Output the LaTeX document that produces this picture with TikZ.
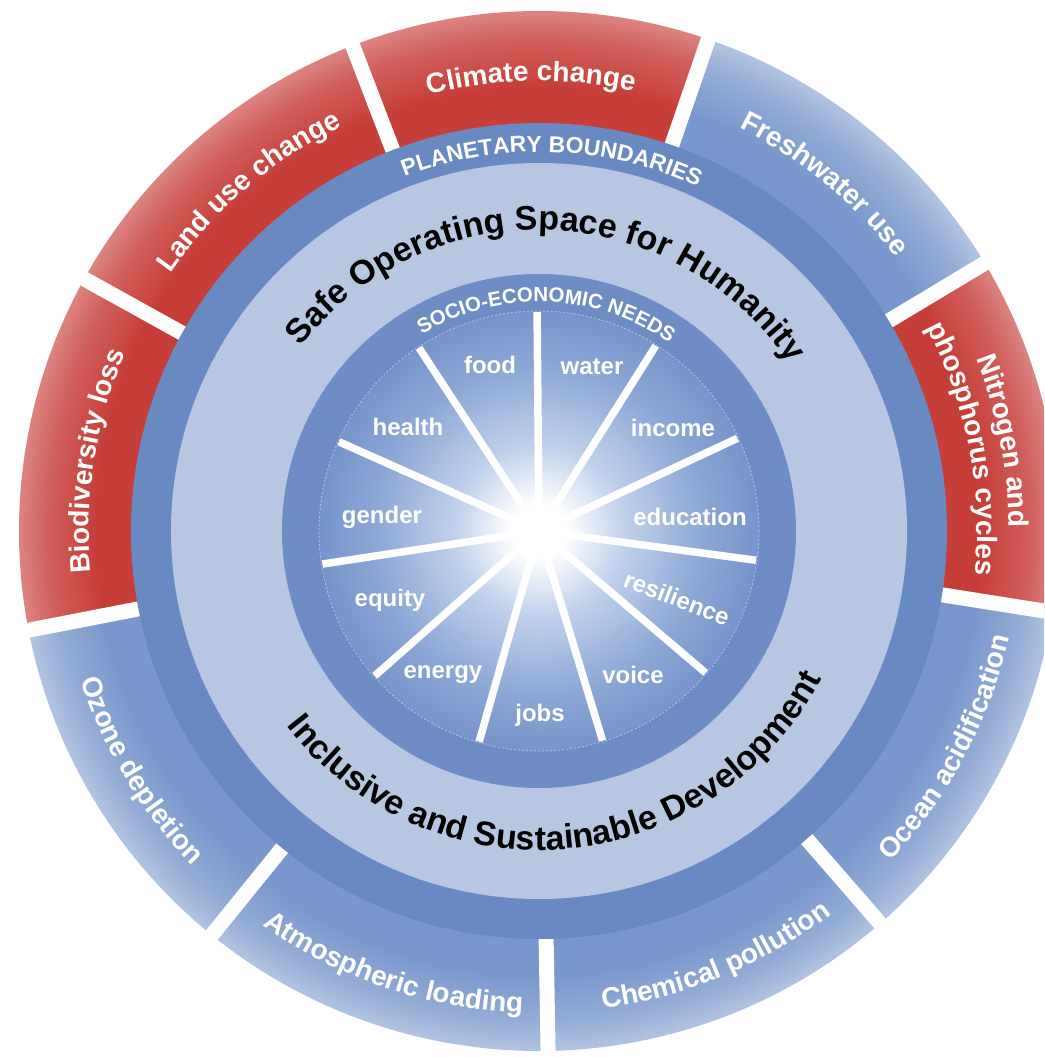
\documentclass[tikz,border=0pt]{standalone}
\usepackage{fontspec}
\setmainfont{Liberation Sans}
\usetikzlibrary{decorations.text}
\definecolor{segred}{RGB}{199,62,57}
\definecolor{segblue}{RGB}{120,151,204}
\definecolor{pbblue}{RGB}{104,137,193}
\definecolor{lightzone}{RGB}{183,199,226}
\definecolor{innerring}{RGB}{110,141,196}
\definecolor{wheelout}{RGB}{118,148,202}
\definecolor{wheelmid}{RGB}{138,166,213}
\definecolor{glowmid}{RGB}{190,207,235}
\pgfdeclareradialshading{wheelglow}{\pgfpoint{0bp}{0bp}}{color(0bp)=(white); color(3bp)=(white); color(10bp)=(glowmid); color(19bp)=(wheelmid); color(25bp)=(wheelout); color(50bp)=(wheelout)}
\pgfdeclareradialshading{redseg}{\pgfpoint{0bp}{0bp}}{color(0bp)=(segred); color(21.3bp)=(segred); color(23.5bp)=(segred!84!white); color(25bp)=(segred!64!white); color(50bp)=(segred!64!white)}
\pgfdeclareradialshading{blueseg}{\pgfpoint{0bp}{0bp}}{color(0bp)=(segblue); color(21.3bp)=(segblue); color(23.5bp)=(segblue!80!white); color(25bp)=(segblue!58!white); color(50bp)=(segblue!58!white)}
\newcommand\segfont{\fontsize{28}{30}\selectfont\bfseries}
\newcommand\wheelfont{\fontsize{24}{26}\selectfont\bfseries}
\newcommand\ringseg[3]{\begin{scope}\clip (#1:400) arc[start angle=#1,end angle=#2,radius=400] -- (#2:520) arc[start angle=#2,end angle=#1,radius=520] -- cycle; \shade[shading=#3] (c) circle (520);\end{scope}}
\newcommand\toplabel[3]{\path[decorate, decoration={text along path, text color=white, text align=center, text={|\segfont|#3}}] ({#1+25}:#2) arc[start angle={#1+25}, end angle={#1-25}, radius=#2];}
\newcommand\botlabel[3]{\path[decorate, decoration={text along path, text color=white, text align=center, text={|\segfont|#3}}] ({#1-25}:#2) arc[start angle={#1-25}, end angle={#1+25}, radius=#2];}
\tikzset{wlabel/.style={text=white, font=\wheelfont, inner sep=0pt}}
\begin{document}
\begin{tikzpicture}[x=1pt,y=1pt]
\useasboundingbox (-539,-526) rectangle (505,531);
\clip (-539,-526) rectangle (505,531);
\coordinate (c) at (0,0);
% outer planetary boundary segments
\ringseg{71}{111}{redseg}
\ringseg{31}{71}{blueseg}
\ringseg{-9}{31}{redseg}
\ringseg{-49}{-9}{blueseg}
\ringseg{-89}{-49}{blueseg}
\ringseg{-129}{-89}{blueseg}
\ringseg{-169}{-129}{blueseg}
\ringseg{151}{191}{redseg}
\ringseg{111}{151}{redseg}
% gaps
\foreach \g in {111,71,31,-9,-49,-89,-129,-169,151}
  \draw[white, line width=15] (\g:392) -- (\g:545);
% rings
\fill[pbblue] (c) circle (408);
\fill[lightzone] (c) circle (368);
\fill[innerring] (c) circle (257);
\shade[shading=wheelglow] (c) circle (220);
\draw[white, opacity=0.45, line width=0.8, dash pattern=on 2pt off 2pt] (c) circle (220);
% spokes
\foreach \k in {0,...,10}
  \draw[white, line width=7.5] (c) -- ({90.5-32.727*\k}:219);
% wheel labels
\node[wlabel] (food) at (-49,166) {food};
\node[wlabel] (water) at (53,164) {water};
\node[wlabel] (income) at (134,103) {income};
\node[wlabel] (education) at (151,14) {education};
\node[wlabel, rotate=-21] (resilience) at (138,-67) {resilience};
\node[wlabel] (voice) at (94,-144) {voice};
\node[wlabel] (jobs) at (1,-184) {jobs};
\node[wlabel] (energy) at (-96,-144) {energy};
\node[wlabel] (equity) at (-149,-69) {equity};
\node[wlabel] (gender) at (-157,14) {gender};
\node[wlabel] (health) at (-131,104) {health};
% ring titles
\path[decorate, decoration={text along path, text color=white, text align=center, text={|\fontsize{20.5}{22}\selectfont\bfseries|SOCIO-ECONOMIC NEEDS}}] (150:229) arc[start angle=150, end angle=26, radius=229];
\path[decorate, decoration={text along path, text color=white, text align=center, text={|\fontsize{23}{25}\selectfont\bfseries|PLANETARY BOUNDARIES}}] (140:379) arc[start angle=140, end angle=36, radius=379];
\path[decorate, decoration={text along path, text color=black, text align=center, text={|\fontsize{34}{36}\selectfont\bfseries|Safe Operating Space for Humanity}}] (165:301) arc[start angle=165, end angle=11, radius=301];
\path[decorate, decoration={text along path, text color=black, text align=center, text={|\fontsize{34}{36}\selectfont\bfseries|Inclusive and Sustainable Development}}] (190:319) arc[start angle=190, end angle=360, radius=319];
% segment labels
\toplabel{91}{450}{Climate change}
\toplabel{50.5}{450}{Freshwater use}
\toplabel{11}{470}{Nitrogen and}
\toplabel{11}{438}{phosphorus cycles}
\toplabel{130.5}{450}{Land use change}
\toplabel{171}{450}{Biodiversity loss}
\botlabel{-28}{482}{Ocean acidification}
\botlabel{-67.5}{482}{Chemical pollution}
\botlabel{-108.5}{482}{Atmospheric loading}
\botlabel{-149}{482}{Ozone depletion}
\end{tikzpicture}
\end{document}
